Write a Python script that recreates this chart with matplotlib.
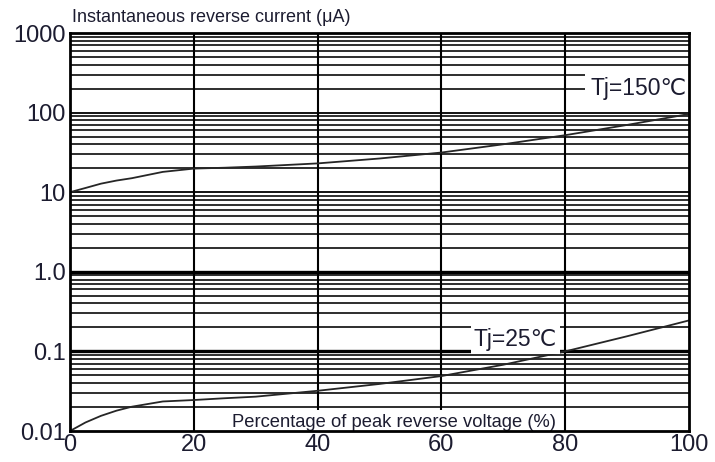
import matplotlib
matplotlib.use("Agg")
import matplotlib.pyplot as plt
import numpy as np

# Data
x_pct = [0, 2.5, 5, 7.5, 10, 15, 20, 25, 30, 40, 50, 60, 70, 80, 90, 100]
ir_150 = [10, 11.3, 12.8, 14.0, 15.0, 18.0, 19.8, 20.3, 21.0, 23.0, 26.5, 31.5, 40.0, 52.0, 70.0, 96.0]
ir_25 = [0.010, 0.0128, 0.0155, 0.018, 0.0202, 0.0235, 0.0245, 0.0258, 0.027, 0.032, 0.039, 0.049, 0.068, 0.100, 0.155, 0.245]

x_ticks = [0, 20, 40, 60, 80, 100]
x_ticklabels = ["0", "20", "40", "60", "80", "100"]
y_ticks = [0.01, 0.1, 1, 10, 100, 1000]
y_ticklabels = ["0.01", "0.1", "1.0", "10", "100", "1000"]

title_text = "Instantaneous reverse current (μA)"
xlabel_text = "Percentage of peak reverse voltage (%)"
label_150 = "Tj=150℃"
label_25 = "Tj=25℃"

plt.rcParams['font.family'] = ['Liberation Sans', 'DejaVu Sans']
txt_col = '#1c1c30'

fig = plt.figure(figsize=(7.15, 4.62), dpi=100)
ax = fig.add_axes([70/715, 1-431/462, (689-70)/715, (431-33)/462])
ax.set_yscale('log')
ax.set_xlim(0, 100)
ax.set_ylim(0.01, 1000)

# grid lines
for dec in [0.01, 0.1, 1, 10, 100]:
    for m in range(2, 10):
        ax.axhline(dec*m, color='black', lw=1.15, zorder=1)
for v in [10, 100, 1000]:
    ax.axhline(v, color='black', lw=1.3, zorder=1)
for v in [0.1, 1]:
    ax.axhline(v, color='black', lw=2.4, zorder=1)
for xv in x_ticks[1:-1]:
    ax.axvline(xv, color='black', lw=1.5, zorder=1)

ax.plot(x_pct, ir_150, color='#262626', lw=1.3, zorder=3)
ax.plot(x_pct, ir_25, color='#262626', lw=1.3, zorder=3)

for s in ax.spines.values():
    s.set_linewidth(2.0)
    s.set_color('black')
    s.set_zorder(6)

ax.set_xticks(x_ticks)
ax.set_xticklabels(x_ticklabels)
ax.set_yticks(y_ticks)
ax.set_yticklabels(y_ticklabels)
ax.minorticks_off()
ax.tick_params(length=0, labelsize=17, colors=txt_col, pad=3)
ax.tick_params(axis='x', pad=2)

fig.text(72/715, 1-17/462, title_text, fontsize=13, color=txt_col, va='center', ha='left')

ax.text(52.4, 0.0128, xlabel_text, fontsize=13.2, color=txt_col, ha='center', va='center',
        bbox=dict(facecolor='white', edgecolor='none', pad=2.5), zorder=4)
ax.text(99.6, 200, label_150, fontsize=16.5, color=txt_col, ha='right', va='center',
        bbox=dict(facecolor='white', edgecolor='none', pad=3.5), zorder=4)
ax.text(78.7, 0.141, label_25, fontsize=16.5, color=txt_col, ha='right', va='center',
        bbox=dict(facecolor='white', edgecolor='none', pad=2), zorder=4)

fig.savefig('out.png', dpi=100)
